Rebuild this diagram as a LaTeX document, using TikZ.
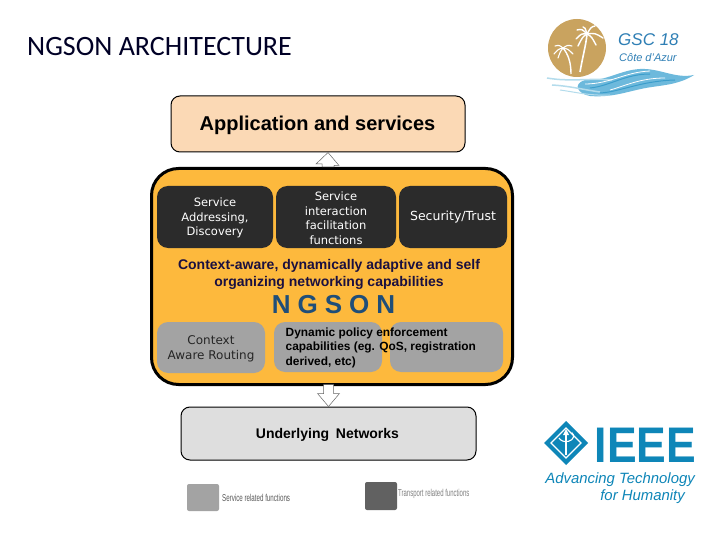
\documentclass[tikz,border=0pt]{standalone}
\usepackage{fontspec}
\setmainfont{Liberation Sans}
\newfontfamily\verd{DejaVu Sans}
\newfontfamily\cali{Carlito}
\usetikzlibrary{calc}
\definecolor{peach}{HTML}{FBD9B5}
\definecolor{amberfill}{HTML}{FDB93D}
\definecolor{darkbox}{HTML}{2B2B2B}
\definecolor{graybox}{HTML}{A3A3A3}
\definecolor{lightbox}{HTML}{DEDEDE}
\definecolor{navyt}{HTML}{1B1040}
\definecolor{ngson}{HTML}{1F4E79}
\definecolor{tan}{HTML}{C9A35F}
\definecolor{wave}{HTML}{6DB9DC}
\definecolor{waved}{HTML}{3B9DCB}
\definecolor{wavel}{HTML}{B4DCEC}
\definecolor{gscblue}{HTML}{2F7FB5}
\definecolor{ieee}{HTML}{0E86B8}
\tikzset{
  x=1pt,y=-1pt,
  box/.style={rounded corners=#1,inner sep=0pt,align=center},
  top/.style={box=9,draw=black,line width=1pt},
  dark/.style={box=11,fill=darkbox,text=white,font=\verd\fontsize{11.5}{14.5}\selectfont},
  gray/.style={box=11,fill=graybox},
  hollow/.style={draw=black!60,fill=white,line width=.5pt,line join=miter},
  leaf/.style={draw=white,line width=1.4pt,line cap=round}
}
\begin{document}
\begin{tikzpicture}
\useasboundingbox (0,0) rectangle (720,540);
\fill[white] (0,0) rectangle (720,540);
\node[inner sep=0pt,anchor=west,font=\cali\fontsize{28}{30}\selectfont,text=black!85!blue] (title) at (27,47) {NGSON ARCHITECTURE};

% frames
\node[top,fill=peach,minimum width=294pt,minimum height=56pt] (app) at (318,124) {};
\node[inner sep=0pt,font=\bfseries\fontsize{20}{22}\selectfont] (appT) at (317.5,125) {Application and services};
\node[box=27,draw=black,line width=3pt,fill=amberfill,minimum width=361pt,minimum height=216pt] (core) at (332,276.5) {};
\node[top,fill=lightbox,minimum width=295pt,minimum height=53pt] (under) at (328.5,433.5) {};
\node[inner sep=0pt,font=\bfseries\fontsize{14}{16}\selectfont] (underT) at (327.5,434.5) {Underlying\hspace{3pt} Networks};

% hollow arrows
\path (app.south) ++(10,0) coordinate (appS);
\draw[hollow] (appS) -- ++(11,13) -- ++(-5,0) -- ($(core.north)+(2,0)$) -- ($(core.north)+(-10,0)$) -- ++(0,-3) -- ++(-6,0) -- cycle;
\path (under.north) coordinate (undN);
\draw[hollow] (undN) -- ++(-11,-13) -- ++(6,0) -- ++(0,-9) -- ++(10,0) -- ++(0,9) -- ++(6,0) -- cycle;

% dark boxes
\node[dark,minimum width=116pt,minimum height=62pt] (sad) at (215,217) {};
\node[dark,inner sep=0pt,fill=none] (sadT) at (215,218) {Service\\Addressing,\\Discovery};
\node[dark,minimum width=120pt,minimum height=62pt] (sif) at (336,217) {};
\node[dark,fill=none] (sifT) at (336,218) {Service\\interaction\\facilitation\\functions};
\node[dark,minimum width=108pt,minimum height=62pt,font=\verd\fontsize{12.5}{14.5}\selectfont] (sec) at (453,217) {Security/Trust};

\node[inner sep=0pt,align=center,text=navyt,font=\bfseries\fontsize{14}{17}\selectfont] (ctx) at (329,274.5) {Context-aware, dynamically adaptive and self\\organizing networking capabilities};
\node[inner sep=0pt,text=ngson,font=\bfseries\fontsize{26}{28}\selectfont] (ngs) at (333.5,305) {N\hspace{7pt}G\hspace{7pt}S\hspace{7pt}O\hspace{7pt}N};

% gray boxes
\node[gray,minimum width=108pt,minimum height=51pt] (car) at (211,347.5) {};
\node[inner sep=0pt,align=center,font=\verd\fontsize{12}{15}\selectfont,text=black!85] (carT) at (211,349) {Context\\Aware Routing};
\node[gray,minimum width=108pt,minimum height=50pt] (dyn) at (328,347) {};
\node[gray,minimum width=113pt,minimum height=50pt] (dyn2) at (446.5,347) {};
\node[inner sep=0pt,anchor=west,align=left,font=\bfseries\fontsize{11.9}{14.5}\selectfont] (dynT) at (285.5,347.5) {Dynamic policy enforcement\\capabilities (eg. QoS, registration\\derived, etc)};

% legend
\node[box=2,fill=graybox,minimum width=32pt,minimum height=27pt] (lg1) at (203,497.5) {};
\node[box=2,fill=black!62,minimum width=32pt,minimum height=28pt] (lg2) at (381,496) {};
\node[inner sep=0pt,anchor=west,text=black!65] (lt1) at (222,497.5) {\scalebox{.62}[1]{\fontsize{10}{12}\selectfont Service related functions}};
\node[inner sep=0pt,anchor=west,text=black!50] (lt2) at (398,494) {\scalebox{.6}[1]{\fontsize{10}{12}\selectfont Transport related functions}};

% GSC logo
\node[circle,fill=tan,minimum size=58pt,inner sep=0pt] (sun) at (577,48) {};
\draw[white,line width=1.6pt] (580,72) .. controls (583,55) and (586,45) .. (587,34);
\draw[white,line width=1.4pt] (571,74) .. controls (571,62) and (568,54) .. (563,48);
\foreach \bx/\by in {577/30,576/39,583/27,595/26,603/38,596/45,578/46}
  \draw[leaf] (587,34) .. controls ($(587,34)!.5!(\bx,\by)+(0,-3)$) .. (\bx,\by);
\foreach \bx/\by in {555/46,554/54,558/58,572/46,573/54}
  \draw[leaf,line width=1.1pt] (563,48) .. controls ($(563,48)!.5!(\bx,\by)+(0,-2)$) .. (\bx,\by);
\node[inner sep=0pt,anchor=west,text=gscblue,font=\itshape\fontsize{17}{19}\selectfont] (gsc) at (618,40) {GSC 18};
\node[inner sep=0pt,anchor=west,text=gscblue,font=\itshape\fontsize{11}{12}\selectfont] (cote) at (619,57.5) {Côte d'Azur};
\fill[wave] (585,80) .. controls (605,82) and (620,70) .. (640,69) .. controls (660,68) and (675,79) .. (694,75) .. controls (680,84) and (665,85) .. (652,87) .. controls (630,90) and (615,98) .. (590,96) .. controls (578,94) and (572,84) .. (585,80) -- cycle;
\draw[wavel,line width=1.5pt] (547,78) .. controls (570,82) and (590,78) .. (612,80);
\draw[wavel,line width=1.5pt] (552,85) .. controls (570,86) and (585,90) .. (600,92);
\draw[wavel,line width=1pt] (560,90) .. controls (575,92) and (590,96) .. (610,95);
\draw[waved,line width=1pt] (590,88) .. controls (610,86) and (625,74) .. (650,74);
\draw[waved,line width=1pt] (600,93) .. controls (620,92) and (640,81) .. (675,80);
\draw[white,line width=.8pt] (585,84) .. controls (610,84) and (625,72) .. (650,71);
\draw[white,line width=.8pt] (610,90) .. controls (625,86) and (640,78) .. (665,78);

% IEEE logo
\fill[ieee] (566,421) -- (588,443) -- (566,465) -- (544,443) -- cycle;
\draw[white,line width=1.1pt] (566,428) -- (581,443) -- (566,458) -- (551,443) -- cycle;
\draw[white,line width=1.2pt] (566,432) -- (566,455);
\draw[white,line width=1.1pt] (559,438) arc[start angle=200,end angle=400,x radius=7.5,y radius=-5.5];
\fill[white] (566,429) -- (569,435) -- (563,435) -- cycle;
\node[inner sep=0pt,text=ieee,font=\bfseries\fontsize{50}{52}\selectfont] (ieeeT) at (645.5,445.5) {\scalebox{.89}[1]{IEEE}};
\node[inner sep=0pt,anchor=east,text=ieee,font=\itshape\fontsize{14.9}{18}\selectfont] (adv) at (695,480) {Advancing Technology};
\node[inner sep=0pt,anchor=east,text=ieee,font=\itshape\fontsize{14.9}{18}\selectfont] (hum) at (685,497) {for Humanity};
\end{tikzpicture}
\end{document}
